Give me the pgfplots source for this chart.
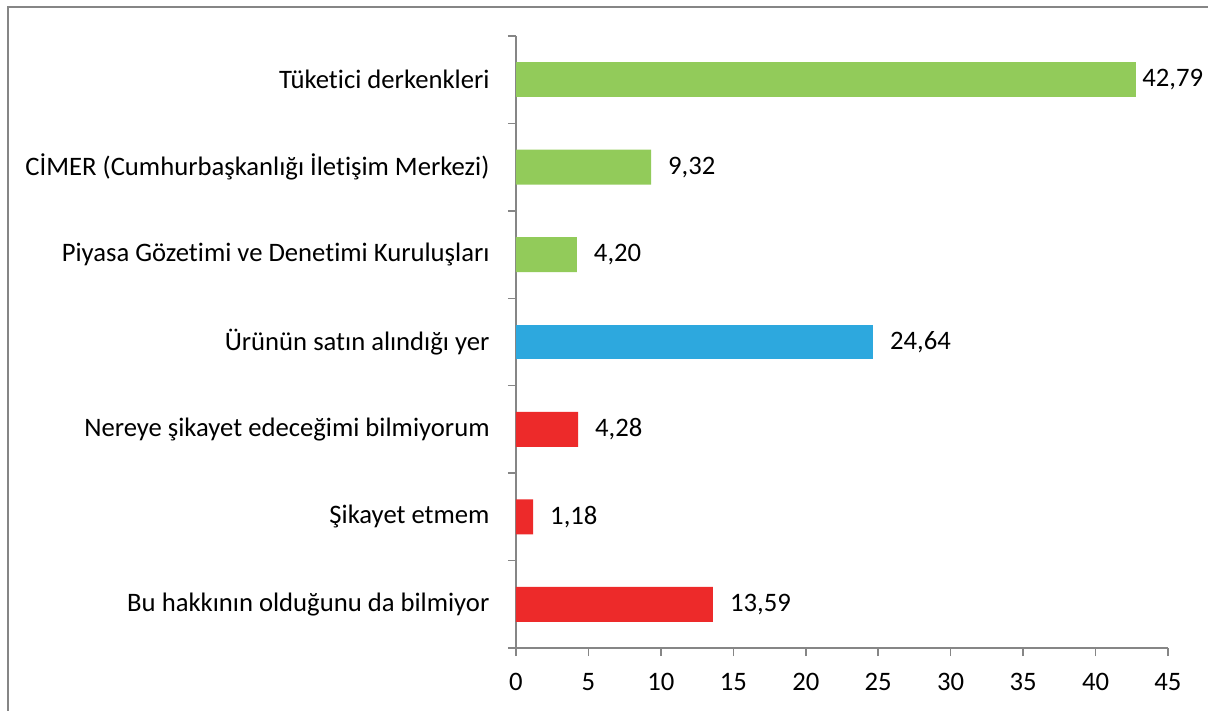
\documentclass[border=0pt]{standalone}
\usepackage{pgfplots}
\pgfplotsset{compat=1.18}
\usepackage{fontspec}
\setmainfont{Carlito}[Ligatures=NoCommon]
\definecolor{cgreen}{RGB}{146,203,90}
\definecolor{cblue}{RGB}{45,168,222}
\definecolor{cred}{RGB}{237,42,42}
\definecolor{axgray}{RGB}{134,134,134}
\begin{document}
\fontsize{20pt}{24pt}\selectfont
\begin{tikzpicture}
\useasboundingbox (-387pt,-47.25pt) rectangle (519pt,486pt);
\begin{axis}[
  at={(0,0)}, anchor=south west,
  scale only axis, width=489pt, height=459pt,
  xbar, bar width=0.4, bar shift=0pt,
  xmin=0, xmax=45, ymin=-0.5, ymax=6.5,
  axis lines*=left,
  axis line style={axgray, line width=1.1pt, -},
  /pgf/number format/assume math mode=true,
  xtick={0,5,...,45},
  ytick={-0.5,0.5,...,6.5}, yticklabels={},
  extra y ticks={0,1,2,3,4,5,6},
  extra y tick labels={Bu hakkının olduğunu da bilmiyor, Şikayet etmem, Nereye şikayet edeceğimi bilmiyorum, Ürünün satın alındığı yer, Piyasa Gözetimi ve Denetimi Kuruluşları, CİMER (Cumhurbaşkanlığı İletişim Merkezi), Tüketici derkenkleri},
  extra y tick style={tick style={draw=none}},
  tick style={axgray, line width=1.1pt},
  tick align=outside, major tick length=6pt,
  ticklabel style={font=\fontsize{20pt}{24pt}\selectfont, text=black},
  yticklabel style={xshift=-7pt},
  xticklabel style={yshift=-5pt, text height=14pt, text depth=0pt},
  point meta=x,
  nodes near coords={\pgfmathprintnumber[fixed,fixed zerofill,precision=2,use comma]{\pgfplotspointmeta}},
  nodes near coords style={anchor=west, xshift=6pt, text=black, font=\fontsize{20pt}{24pt}\selectfont},
]
\addplot[fill=cgreen, draw=none, nodes near coords style={xshift=-8pt}] coordinates {(42.79,6)};
\addplot[fill=cgreen, draw=none] coordinates {(9.32,5) (4.20,4)};
\addplot[fill=cblue, draw=none] coordinates {(24.64,3)};
\addplot[fill=cred, draw=none] coordinates {(4.28,2) (1.18,1) (13.59,0)};
\end{axis}
\draw[axgray, line width=1.5pt] (-381pt,-47.25pt) -- (-381pt,480.75pt) -- (519pt,480.75pt);
\end{tikzpicture}
\end{document}
